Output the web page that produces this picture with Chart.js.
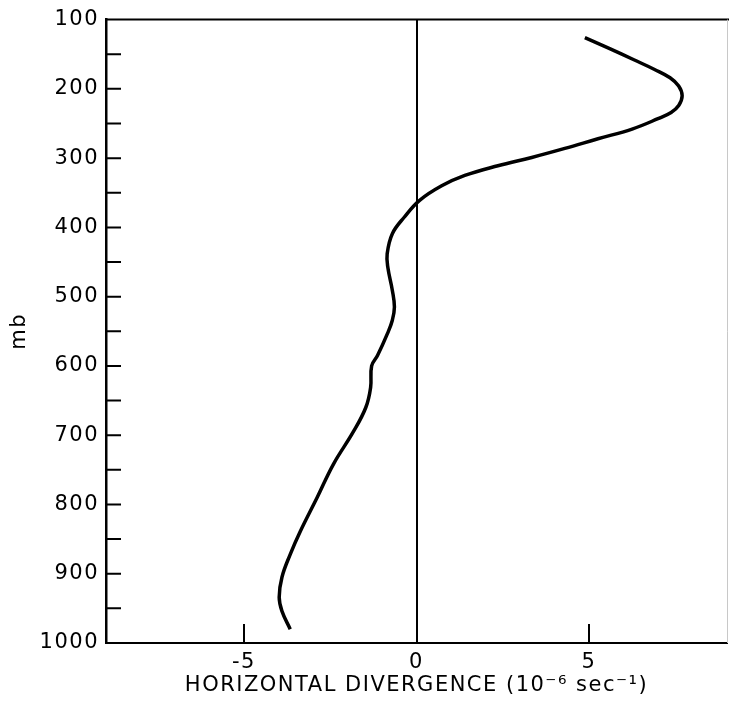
<!DOCTYPE html>
<html>
<head>
<meta charset="utf-8">
<script src="https://cdn.jsdelivr.net/npm/chart.js@4.4.1/dist/chart.umd.min.js"></script>
<style>
  html, body { margin: 0; padding: 0; background: #fff; }
  #wrap { width: 729px; height: 709px; }
</style>
</head>
<body>
<div id="wrap"><canvas id="divChart" width="729" height="709"></canvas></div>
<script>
// Divergence profile, pressure (mb) top-down
const pressureLevels = [126, 142, 158, 172, 184, 196, 210, 224, 234, 243, 258, 272, 286, 299, 311, 325, 340, 361, 385, 409, 438, 458, 491, 515, 534, 553, 585, 600, 631, 660, 695, 742, 790, 839, 872, 905, 934, 954, 980];
const divergence = [4.88, 5.6, 6.3, 6.9, 7.35, 7.6, 7.7, 7.6, 7.38, 7.0, 6.25, 5.26, 4.3, 3.34, 2.36, 1.4, 0.73, 0.09, -0.35, -0.7, -0.85, -0.83, -0.7, -0.64, -0.7, -0.84, -1.13, -1.3, -1.33, -1.47, -1.83, -2.41, -2.88, -3.37, -3.66, -3.9, -3.98, -3.9, -3.66];

const divergenceTicks = [-5, 0, 5];
const pressureMin = 100;
const pressureMax = 1000;
const pressureStep = 50;

Chart.defaults.font.family = "'DejaVu Sans', sans-serif";
Chart.defaults.font.size = 21;
Chart.defaults.color = '#000';

// wide lettering for all the axis text
const spacing = {
    id: 'spacing',
    beforeDraw(chart) { chart.ctx.letterSpacing = '1.5px'; },
    afterDraw(chart) { chart.ctx.letterSpacing = '0px'; }
};

// inward tick marks, top edge and faint right edge
const frame = {
    id: 'frame',
    afterDraw(chart) {
        const { ctx, chartArea: a, scales: { x, y } } = chart;
        ctx.save();
        ctx.strokeStyle = '#000';
        ctx.lineWidth = 2;
        ctx.beginPath();
        y.ticks.forEach(t => {
            if (t.value === pressureMin || t.value === pressureMax) return;
            const py = y.getPixelForValue(t.value);
            ctx.moveTo(a.left, py);
            ctx.lineTo(a.left + 15, py);
        });
        divergenceTicks.filter(v => v !== 0).forEach(v => {
            const px = x.getPixelForValue(v);
            ctx.moveTo(px, a.bottom);
            ctx.lineTo(px, a.bottom - 19);
        });
        ctx.moveTo(a.left, a.top);
        ctx.lineTo(chart.width, a.top);
        ctx.stroke();

        ctx.strokeStyle = '#c8c8c8';
        ctx.lineWidth = 1;
        ctx.beginPath();
        ctx.moveTo(a.right + 0.5, a.top);
        ctx.lineTo(a.right + 0.5, a.bottom);
        ctx.stroke();
        ctx.restore();
    }
};

new Chart(document.getElementById('divChart').getContext('2d'), {
    type: 'line',
    data: {
        datasets: [{
            data: pressureLevels.map((p, i) => ({ x: divergence[i], y: p })),
            borderColor: '#000',
            borderWidth: 3.5,
            pointRadius: 0,
            fill: false,
            tension: 0.4
        }]
    },
    options: {
        indexAxis: 'y',
        responsive: false,
        animation: false,
        layout: { padding: { top: 19, right: 2, left: 0, bottom: 0 } },
        plugins: { legend: { display: false }, tooltip: { enabled: false } },
        scales: {
            x: {
                type: 'linear',
                min: -9,
                max: 9,
                afterBuildTicks: scale => { scale.ticks = divergenceTicks.map(v => ({ value: v })); },
                afterFit: scale => { scale.height = 66; },
                ticks: { padding: 7 },
                grid: {
                    drawTicks: false,
                    lineWidth: 2,
                    color: c => (c.tick && c.tick.value === 0 ? '#000' : 'rgba(0,0,0,0)')
                },
                border: { color: '#000', width: 2 },
                title: {
                    display: true,
                    text: 'HORIZONTAL DIVERGENCE (10\u207B\u2076 sec\u207B\u00B9)',
                    padding: { bottom: 11 }
                }
            },
            y: {
                type: 'linear',
                reverse: true,
                min: pressureMin,
                max: pressureMax,
                afterFit: scale => { scale.width = 106; },
                ticks: {
                    stepSize: pressureStep,
                    padding: 7,
                    callback: v => (v % 100 === 0 ? v : '')
                },
                grid: { display: false, drawTicks: false },
                border: { color: '#000', width: 2.5 },
                title: { display: true, text: 'mb', padding: { top: 7 } }
            }
        }
    },
    plugins: [spacing, frame]
});
</script>
</body>
</html>
